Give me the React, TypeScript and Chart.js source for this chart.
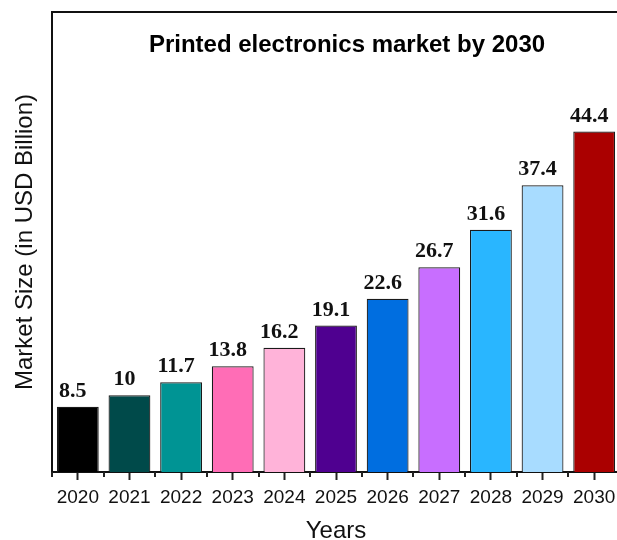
import React, { useEffect, useRef } from "react";
import { Chart, registerables } from "chart.js";

Chart.register(...registerables);

const years = ["2020", "2021", "2022", "2023", "2024", "2025", "2026", "2027", "2028", "2029", "2030"];
const marketSize = [8.5, 10, 11.7, 13.8, 16.2, 19.1, 22.6, 26.7, 31.6, 37.4, 44.4];
const valueLabels = ["8.5", "10", "11.7", "13.8", "16.2", "19.1", "22.6", "26.7", "31.6", "37.4", "44.4"];
const barColors = [
  "#000000", "#004a4a", "#009494", "#ff6db6", "#ffb3d9", "#4f0090",
  "#006ee0", "#c86eff", "#29b6ff", "#a8dcff", "#aa0000",
];
const chartTitle = "Printed electronics market by 2030";
const yTitle = "Market Size (in USD Billion)";
const xTitle = "Years";

const SANS = "'Liberation Sans', Arial, sans-serif";
const SERIF = "'Liberation Serif', 'Times New Roman', serif";

const extrasPlugin = {
  id: "extras",
  afterDatasetsDraw(chart: any) {
    const ctx = chart.ctx;
    const meta = chart.getDatasetMeta(0);
    ctx.save();
    ctx.font = `bold 22px ${SERIF}`;
    ctx.fillStyle = "#111";
    ctx.textAlign = "center";
    ctx.textBaseline = "alphabetic";
    meta.data.forEach((bar: any, i: number) => {
      ctx.fillText(valueLabels[i], bar.x - 5, bar.y - 10);
    });
    ctx.restore();
  },
  afterDraw(chart: any) {
    const ctx = chart.ctx;
    const { left, right, top, bottom } = chart.chartArea;
    const xs = chart.scales.x;
    ctx.save();
    ctx.strokeStyle = "#111";
    ctx.lineWidth = 2;
    ctx.beginPath();
    ctx.moveTo(left - 1, top);
    ctx.lineTo(right, top);
    ctx.moveTo(right, top);
    ctx.lineTo(right, bottom);
    ctx.stroke();
    // minor ticks at category boundaries
    const half = (xs.getPixelForValue(1) - xs.getPixelForValue(0)) / 2;
    ctx.strokeStyle = "#222";
    ctx.beginPath();
    for (let i = 0; i <= years.length; i++) {
      const x = Math.round(xs.getPixelForValue(i) - half);
      ctx.moveTo(x, bottom);
      ctx.lineTo(x, bottom + 5);
    }
    ctx.stroke();
    // title
    ctx.font = `bold 24px ${SANS}`;
    ctx.fillStyle = "#000";
    ctx.textAlign = "center";
    ctx.textBaseline = "alphabetic";
    ctx.fillText(chartTitle, 347, 52);
    ctx.restore();
  },
};

export default function App() {
  const ref = useRef<HTMLCanvasElement | null>(null);
  useEffect(() => {
    document.body.style.margin = "0";
    const chart = new Chart(ref.current as HTMLCanvasElement, {
      type: "bar",
      data: {
        labels: years,
        datasets: [
          {
            data: marketSize,
            backgroundColor: barColors,
            borderColor: "#1a1a1a",
            borderWidth: 1.2,
            barPercentage: 0.81,
            categoryPercentage: 1,
          },
        ],
      },
      options: {
        animation: false,
        responsive: false,
        devicePixelRatio: 1,
        layout: { padding: { top: 12, left: 0, right: 5, bottom: 0 } },
        plugins: { legend: { display: false }, tooltip: { enabled: false }, title: { display: false } },
        scales: {
          x: {
            type: "category",
            offset: true,
            afterFit: (s: any) => { s.height = 68; },
            grid: {
              display: true,
              drawOnChartArea: false,
              drawTicks: true,
              tickLength: 8,
              tickWidth: 2,
              tickColor: "#222",
              offset: false,
            },
            border: { display: true, color: "#111", width: 2 },
            ticks: {
              font: { size: 19, family: SANS },
              color: "#111",
              padding: 6,
              maxRotation: 0,
              autoSkip: false,
            },
            title: {
              display: true,
              text: xTitle,
              font: { size: 24, family: SANS, lineHeight: 0.7 },
              color: "#111",
              padding: 0,
            },
          },
          y: {
            min: 0,
            max: 60,
            afterFit: (s: any) => { s.width = 52; },
            grid: { display: false },
            border: { display: true, color: "#111", width: 2 },
            ticks: { display: false },
            title: {
              display: true,
              text: yTitle,
              font: { size: 24, family: SANS, lineHeight: 1 },
              color: "#111",
              padding: { top: 13, bottom: 0 },
            },
          },
        },
      },
      plugins: [extrasPlugin],
    });
    return () => chart.destroy();
  }, []);
  return (
    <div style={{ width: 617, height: 540, overflow: "hidden", position: "relative", background: "#fff" }}>
      <canvas ref={ref} width={625} height={540} style={{ width: 625, height: 540, display: "block" }} />
    </div>
  );
}
